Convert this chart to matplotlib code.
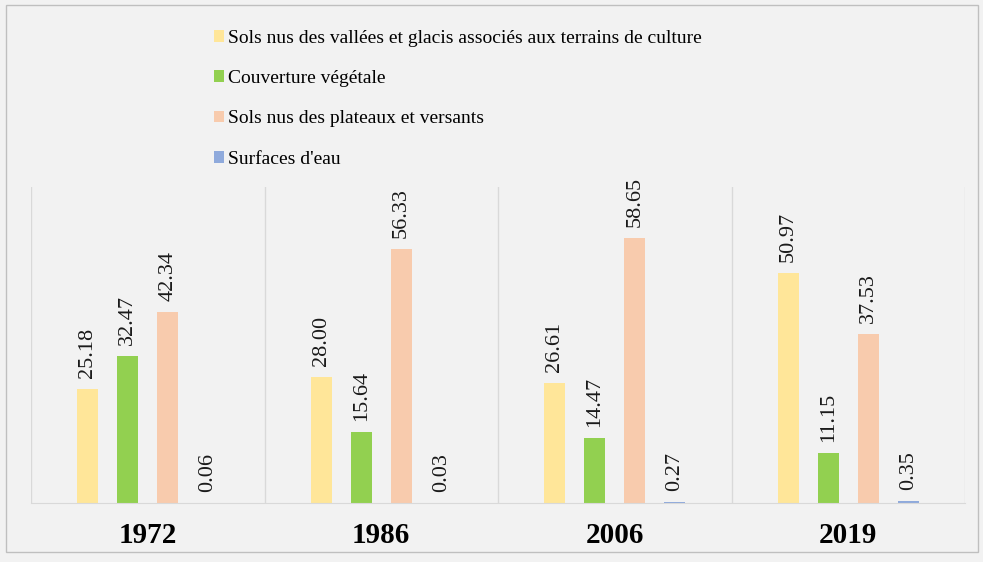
import matplotlib.pyplot as plt
import numpy as np
from matplotlib.patches import Rectangle

years = ["1972", "1986", "2006", "2019"]
series = [
    "Sols nus des vallées et glacis associés aux terrains de culture",
    "Couverture végétale",
    "Sols nus des plateaux et versants",
    "Surfaces d'eau",
]
vallees = [25.18, 28.00, 26.61, 50.97]
vegetation = [32.47, 15.64, 14.47, 11.15]
plateaux = [42.34, 56.33, 58.65, 37.53]
eau = [0.06, 0.03, 0.27, 0.35]
colors = ["#ffe699", "#92d050", "#f8cbad", "#8faadc"]

plt.rcParams['font.family'] = ['Liberation Serif', 'DejaVu Serif']

fig = plt.figure(figsize=(9.83, 5.62), dpi=100, facecolor='#f2f2f2')
ax = fig.add_axes([31 / 983, 1 - 503 / 562, 934 / 983, 316 / 562])
ax.set_facecolor('#f2f2f2')

# outer border of the chart area
fig.patches.append(Rectangle((6 / 983, 1 - 552 / 562), 972 / 983, 547 / 562,
                             transform=fig.transFigure, fill=False,
                             edgecolor='#bfbfbf', linewidth=1))

x = np.arange(len(years))
width = 0.09
step = 0.171
handles = []
for i, (vals, col) in enumerate(zip([vallees, vegetation, plateaux, eau], colors)):
    pos = x + (i - 1.5) * step
    b = ax.bar(pos, vals, width, color=col)
    handles.append(b)
    for p, v in zip(pos, vals):
        ax.annotate(f"{v:.2f}", (p, v), xytext=(0, 11), textcoords='offset pixels',
                    rotation=90, ha='center', va='bottom', fontsize=16, color='#1a1a1a')

ax.set_xlim(-0.5, len(years) - 0.5)
ax.set_ylim(0, 70)
ax.set_yticks([])
ax.set_xticks(x)
ax.set_xticklabels(years, fontsize=21, fontweight='bold')
ax.tick_params(axis='x', length=0, pad=14)
for s in ['top', 'right', 'left']:
    ax.spines[s].set_visible(False)
ax.spines['bottom'].set_color('#d9d9d9')
for b in np.arange(-0.5, len(years), 1.0):
    ax.axvline(b, color='#d9d9d9', linewidth=1, zorder=0)

fig.legend(handles, series, loc='upper left', bbox_to_anchor=(206 / 983, 1 - 22 / 562),
           frameon=False, fontsize=14, handlelength=0.55, handleheight=0.55,
           handletextpad=0.2, labelspacing=1.2, borderaxespad=0)

fig.savefig("out.png", dpi=100, facecolor=fig.get_facecolor())
